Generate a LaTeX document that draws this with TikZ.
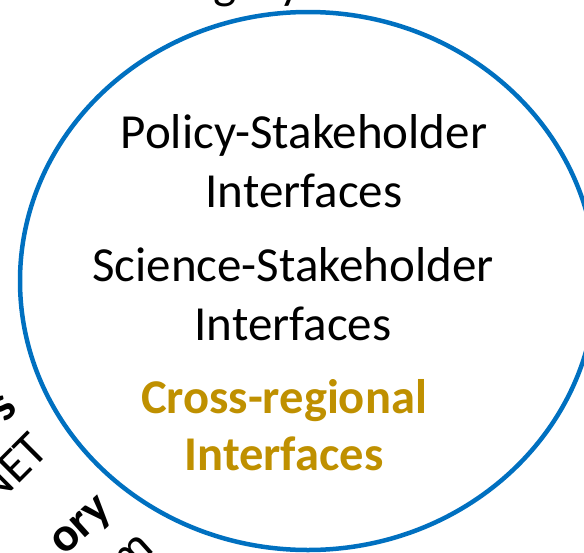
\documentclass[tikz,border=0pt]{standalone}
\usepackage{fontspec}
\setmainfont{Carlito}

\definecolor{ringblue}{HTML}{0070C0}
\definecolor{crossgold}{HTML}{BF9000}

\begin{document}
\begin{tikzpicture}[x=1pt,y=-1pt,inner sep=0pt,
                    font=\fontsize{49}{59}\selectfont]
  \tikzstyle{every node}=[align=center]
  \tikzstyle{strong}=[font=\fontsize{48.5}{57}\selectfont\bfseries]

  \useasboundingbox (0,0) rectangle (584,552);
  \clip (0,0) rectangle (584,552);

  % the ring
  \draw[ringblue,line width=4.5pt] (308,281) ellipse [x radius=288pt,y radius=269pt];

  % text inside the ring (base = last line)
  \node[anchor=base] (policy)  at (304,207) {Policy-Stakeholder\\Interfaces};
  \node[anchor=base] (science) at (293,340) {Science-Stakeholder\\Interfaces};
  \node[strong,text=crossgold,anchor=base] (cross) at (284,470) {Cross-regional\\Interfaces};

  % cut-off labels round the edge
  \node[anchor=base] (top) at (258,-2) {gory};
  \node[strong,rotate=45] (s) at (4,408) {s};
  \node[rotate=45,anchor=base east] (net) at (51,452) {NET};
  \node[strong,rotate=42,anchor=base east] (ory) at (114,512) {ory};
  \node[rotate=42,anchor=base east] (m) at (156,550) {m};
\end{tikzpicture}
\end{document}
